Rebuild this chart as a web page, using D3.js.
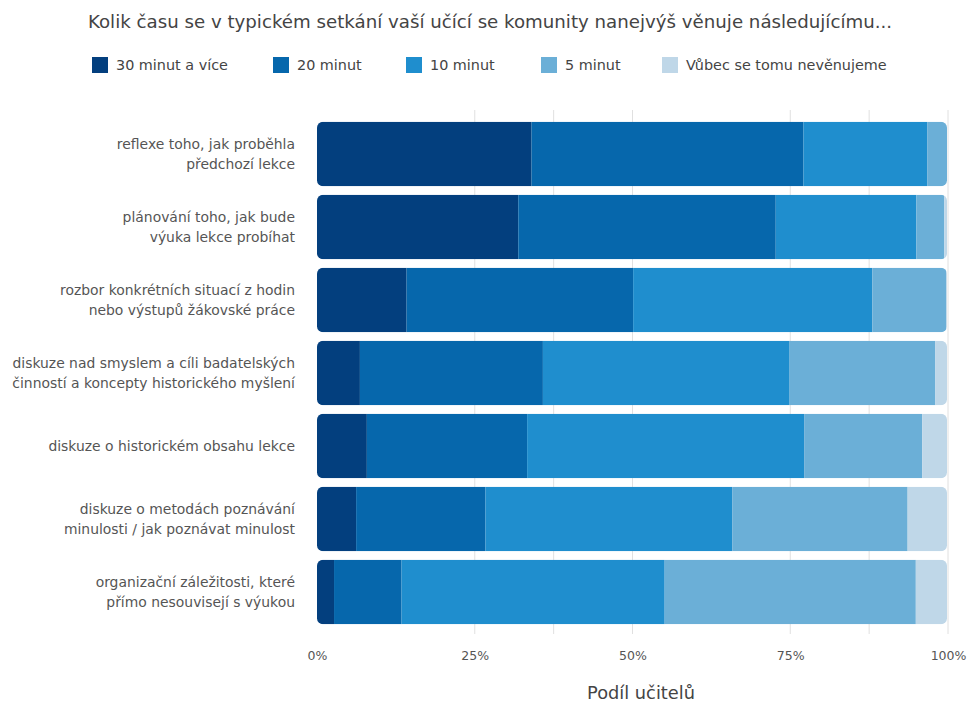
<!DOCTYPE html>
<html>
<head>
<meta charset="utf-8">
<script src="https://cdn.jsdelivr.net/npm/d3@7"></script>
<style>
  html, body { margin: 0; padding: 0; background: #fff; }
  svg { display: block; font-family: "DejaVu Sans", sans-serif; }
</style>
</head>
<body>
<svg id="chart" width="968" height="702"></svg>
<script>
const title = "Kolik času se v typickém setkání vaší učící se komunity nanejvýš věnuje následujícímu...";
const seriesNames = ["30 minut a více", "20 minut", "10 minut", "5 minut", "Vůbec se tomu nevěnujeme"];
const seriesColors = ["#033f7e", "#0667ac", "#1f8ece", "#6bafd7", "#bfd7e8"];
const categories = [
  ["reflexe toho, jak proběhla", "předchozí lekce"],
  ["plánování toho, jak bude", "výuka lekce probíhat"],
  ["rozbor konkrétních situací z hodin", "nebo výstupů žákovské práce"],
  ["diskuze nad smyslem a cíli badatelských", "činností a koncepty historického myšlení"],
  ["diskuze o historickém obsahu lekce"],
  ["diskuze o metodách poznávání", "minulosti / jak poznávat minulost"],
  ["organizační záležitosti, které", "přímo nesouvisejí s výukou"]
];
const v30 = [34.0, 31.9, 14.2, 6.8, 7.9, 6.2, 2.7];
const v20 = [43.1, 40.8, 35.9, 29.0, 25.4, 20.5, 10.7];
const v10 = [19.6, 22.3, 37.9, 39.1, 43.9, 39.1, 41.7];
const v5  = [3.3, 4.4, 11.7, 23.1, 18.7, 27.8, 39.8];
const v0  = [0.0, 0.6, 0.3, 2.0, 4.1, 6.4, 5.1];
const tickValues = [0, 25, 50, 75, 100];
const gridValues = [25, 37.5, 50, 75, 87.5, 100];
const axisTitle = "Podíl učitelů";

const svg = d3.select("#chart");
const rows = categories.map((c, i) => ({ label: c, vals: [v30[i], v20[i], v10[i], v5[i], v0[i]] }));

const x = d3.scaleLinear().domain([0, 100]).range([317, 948]);
const y = d3.scaleBand().domain(d3.range(rows.length)).range([113, 633]).paddingInner(0.1164).paddingOuter(0.12);

// size a text element so that its width equals target
function fit(node, target) {
  const fs = parseFloat(node.getAttribute("font-size"));
  const w = node.getComputedTextLength();
  const nf = fs * target / w;
  node.setAttribute("font-size", nf.toFixed(2));
  return nf;
}

// title
const tt = svg.append("text").attr("x", 490).attr("y", 28).attr("text-anchor", "middle")
  .attr("font-size", 17).attr("fill", "#444").text(title);
fit(tt.node(), 805);

// legend
const legX = [92, 273, 406, 541, 662];
const probe = svg.append("text").attr("font-size", 14).text(seriesNames[0]);
const legFs = fit(probe.node(), 112);
probe.remove();
seriesNames.forEach((n, i) => {
  svg.append("rect").attr("x", legX[i]).attr("y", 57).attr("width", 16).attr("height", 16).attr("fill", seriesColors[i]);
  svg.append("text").attr("x", legX[i] + 24).attr("y", 70).attr("font-size", legFs).attr("fill", "#444").text(n);
});

// gridlines
svg.append("g").selectAll("line").data(gridValues).join("line")
  .attr("x1", d => x(d)).attr("x2", d => x(d)).attr("y1", 110).attr("y2", 634)
  .attr("stroke", "#e0e0e0").attr("stroke-width", 1);

// label font size
const probe2 = svg.append("text").attr("font-size", 13).text(categories[3][0]);
const labFs = fit(probe2.node(), 283);
probe2.remove();

// bars
const defs = svg.append("defs");
rows.forEach((r, i) => {
  defs.append("clipPath").attr("id", "clip" + i).append("rect")
    .attr("x", x(0)).attr("y", y(i)).attr("width", x(100) - x(0) - 1).attr("height", y.bandwidth())
    .attr("rx", 6).attr("ry", 6);
  let acc = 0;
  const segs = r.vals.map((v, k) => { const s = { x0: acc, x1: acc + v, k }; acc += v; return s; });
  svg.append("g").attr("clip-path", `url(#clip${i})`).selectAll("rect").data(segs).join("rect")
    .attr("x", d => x(d.x0)).attr("y", y(i))
    .attr("width", d => Math.max(0, x(d.x1) - x(d.x0)))
    .attr("height", y.bandwidth())
    .attr("fill", d => seriesColors[d.k]);
  const lines = r.label;
  const cy = y(i) + y.bandwidth() / 2;
  const lh = 20;
  const t = svg.append("text").attr("text-anchor", "end").attr("font-size", labFs).attr("fill", "#555");
  lines.forEach((ln, j) => {
    t.append("tspan").attr("x", 295).attr("y", cy + (j - (lines.length - 1) / 2) * lh + 5).text(ln);
  });
});

// axis
const axis = d3.axisBottom(x).tickValues(tickValues).tickFormat(d => d + "%").tickSize(0).tickPadding(0);
const ag = svg.append("g").attr("transform", "translate(0,660)").call(axis);
ag.select(".domain").remove();
ag.selectAll("text").attr("font-size", 12.5).attr("fill", "#555").attr("font-family", "DejaVu Sans, sans-serif").attr("dy", 0);

const at = svg.append("text").attr("x", 641).attr("y", 699).attr("text-anchor", "middle")
  .attr("font-size", 16).attr("fill", "#444").text(axisTitle);
fit(at.node(), 108);
</script>
</body>
</html>
